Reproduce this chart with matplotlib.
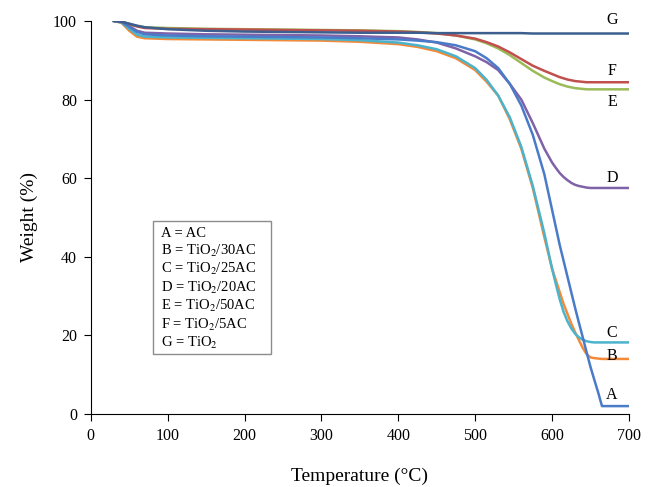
import numpy as np
import matplotlib
matplotlib.use("Agg")
import matplotlib.pyplot as plt
from matplotlib.patches import Rectangle

plt.rcParams['font.family'] = ['Liberation Serif', 'DejaVu Serif']
plt.rcParams['mathtext.fontset'] = 'stix'

# temperature grid (°C)
temp = [30, 40, 50, 60, 70, 100, 150, 200, 250, 300, 350, 400, 425, 450, 475,
        500, 515, 530, 545, 560, 575, 590, 600, 605, 610, 615, 620, 625, 630,
        635, 640, 645, 650, 655, 660, 665, 670, 680, 700]

# weight (%) for each sample
w_A = [100, 99.8, 98.5, 97.2, 96.6, 96.3, 96.1, 96.0, 95.9, 95.8, 95.6, 95.3, 95.0, 94.6, 93.8,
       92.3, 90.5, 88.0, 84.0, 78.5, 71.0, 61.0, 52.0, 47.5, 43.0, 39.0, 35.0, 31.0, 27.0,
       23.2, 19.5, 15.7, 12.0, 8.7, 5.5, 2.0, 2.0, 2.0, 2.0]
w_B = [100, 99.5, 97.5, 96.0, 95.6, 95.4, 95.3, 95.2, 95.1, 95.0, 94.7, 94.1, 93.4, 92.3, 90.5,
       87.5, 84.5, 81.0, 75.0, 67.5, 57.5, 45.0, 37.0, 34.0, 31.0, 28.0, 25.5, 23.0, 20.8,
       18.8, 16.8, 15.2, 14.4, 14.2, 14.1, 14.0, 14.0, 14.0, 14.0]
w_C = [100, 99.6, 98.0, 96.5, 96.0, 95.8, 95.7, 95.6, 95.5, 95.4, 95.1, 94.5, 93.8, 92.8, 91.0,
       88.0, 85.0, 81.0, 75.5, 68.0, 58.0, 46.0, 37.0, 33.0, 29.2, 26.0, 23.6, 21.8, 20.4,
       19.5, 18.9, 18.5, 18.3, 18.2, 18.2, 18.2, 18.2, 18.2, 18.2]
w_D = [100, 99.7, 98.7, 97.5, 97.0, 96.8, 96.6, 96.5, 96.4, 96.3, 96.1, 95.8, 95.3, 94.5, 93.0,
       91.0, 89.5, 87.5, 84.0, 80.0, 74.0, 67.5, 64.0, 62.6, 61.3, 60.3, 59.5, 58.8, 58.3,
       58.0, 57.8, 57.6, 57.5, 57.5, 57.5, 57.5, 57.5, 57.5, 57.5]
w_E = [100, 99.8, 99.2, 98.7, 98.4, 98.2, 98.0, 97.9, 97.8, 97.7, 97.6, 97.4, 97.2, 96.9, 96.3,
       95.3, 94.3, 93.0, 91.3, 89.3, 87.3, 85.6, 84.7, 84.3, 83.9, 83.6, 83.3, 83.1, 82.9,
       82.8, 82.7, 82.6, 82.6, 82.6, 82.6, 82.6, 82.6, 82.6, 82.6]
w_F = [100, 99.8, 99.2, 98.6, 98.2, 98.0, 97.9, 97.8, 97.7, 97.6, 97.5, 97.3, 97.1, 96.8, 96.3,
       95.5, 94.6, 93.5, 92.0, 90.3, 88.6, 87.3, 86.5, 86.1, 85.7, 85.4, 85.1, 84.9, 84.7,
       84.6, 84.5, 84.4, 84.4, 84.4, 84.4, 84.4, 84.4, 84.4, 84.4]
w_G = [100, 99.8, 99.3, 98.8, 98.4, 97.9, 97.5, 97.3, 97.2, 97.1, 97.0, 97.0, 97.0, 96.9, 96.9,
       96.9, 96.9, 96.9, 96.9, 96.9, 96.8, 96.8, 96.8, 96.8, 96.8, 96.8, 96.8, 96.8, 96.8,
       96.8, 96.8, 96.8, 96.8, 96.8, 96.8, 96.8, 96.8, 96.8, 96.8]

# curve labels at right end (letter, y position)
lab_letters = ['G', 'F', 'E', 'D', 'C', 'B', 'A']
lab_y = [100.2, 87.3, 79.4, 60.0, 20.6, 14.8, 4.8]

legend_lines = ['A = AC', 'B = TiO$_2$/30AC', 'C = TiO$_2$/25AC', 'D = TiO$_2$/20AC',
                'E = TiO$_2$/50AC', 'F = TiO$_2$/5AC', 'G = TiO$_2$']

fig = plt.figure(figsize=(6.49, 4.87), dpi=100)
ax = fig.add_axes([0.140, 0.150, 0.829, 0.807])

lw = 1.8
ax.plot(temp, w_B, color='#F28A3A', lw=lw)
ax.plot(temp, w_C, color='#4BB3CC', lw=lw)
ax.plot(temp, w_D, color='#7F62A8', lw=lw)
ax.plot(temp, w_E, color='#9BBB59', lw=lw)
ax.plot(temp, w_F, color='#C0504D', lw=lw)
ax.plot(temp, w_A, color='#4A7BC8', lw=lw)
ax.plot(temp, w_G, color='#3C5F8F', lw=lw)

for l, y in zip(lab_letters, lab_y):
    ax.text(678, y, l, fontsize=11.5, ha='center', va='center')

# legend box
ax.add_patch(Rectangle((0.115, 0.153), 0.22, 0.338, transform=ax.transAxes,
                       fc='white', ec='#8c8c8c', lw=1, zorder=3))
ax.text(0.130, 0.475, '\n'.join(legend_lines), transform=ax.transAxes,
        fontsize=10.5, va='top', ha='left', linespacing=1.2, zorder=4)

ax.set_xlim(0, 700)
ax.set_ylim(0, 100)
ax.set_xticks(range(0, 701, 100))
ax.set_yticks(range(0, 101, 20))
ax.spines['top'].set_visible(False)
ax.spines['right'].set_visible(False)
ax.tick_params(direction='out', length=5, labelsize=11.5, pad=5)
ax.set_xlabel('Temperature (°C)', fontsize=14, labelpad=17)
ax.set_ylabel('Weight (%)', fontsize=14, labelpad=11)

fig.savefig('out.png', dpi=100)
